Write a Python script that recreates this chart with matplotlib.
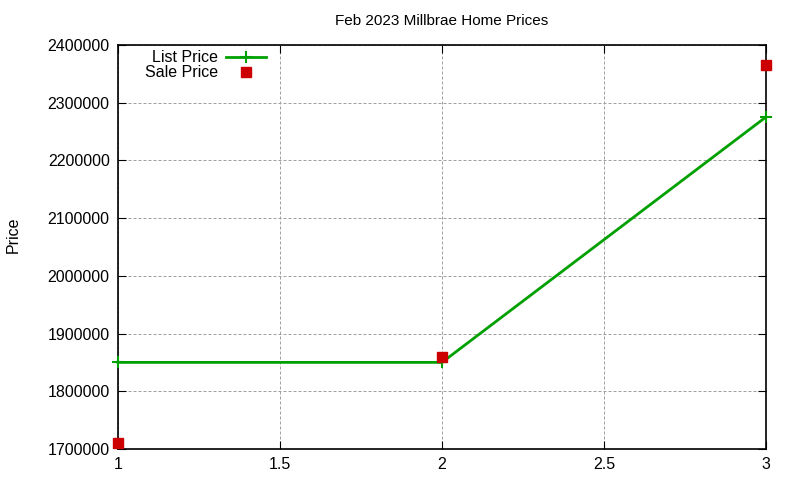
import matplotlib
matplotlib.use("Agg")
import matplotlib.pyplot as plt
from matplotlib.ticker import FormatStrFormatter

plt.rcParams['font.family'] = ['Liberation Sans', 'DejaVu Sans']

x = [1, 2, 3]
list_price = [1850000, 1850000, 2275000]
sale_price = [1710000, 1860000, 2365000]

fig = plt.figure(figsize=(8, 4.8), dpi=100)
ax = fig.add_axes([0.1475, 0.0646, 0.81, 0.8421])

ax.plot(x, list_price, color="#00a000", lw=2, marker="+", ms=9, mew=1.5,
        label="List Price", clip_on=False, zorder=3)
ax.plot(x, sale_price, color="#cc0000", ls="none", marker="s", ms=7,
        label="Sale Price", clip_on=False, zorder=4)

ax.set_xlim(1, 3)
ax.set_ylim(1700000, 2400000)
ax.set_xticks([1, 1.5, 2, 2.5, 3])
ax.set_xticklabels(["1", "1.5", "2", "2.5", "3"])
ax.set_yticks(range(1700000, 2400001, 100000))
ax.yaxis.set_major_formatter(FormatStrFormatter("%d"))
ax.tick_params(direction="in", top=True, right=True, length=6, labelsize=11.5, pad=6)
ax.grid(True, color="#a0a0a0", ls=(0, (3, 2)), lw=0.72)
for s in ax.spines.values():
    s.set_linewidth(1.2)

ax.set_title("Feb 2023 Millbrae Home Prices", fontsize=11, pad=14)
fig.text(0.016, 0.51, "Price", rotation=90, fontsize=11.5, va="center", ha="center")

ax.legend(loc="upper left", bbox_to_anchor=(0.02, 1.022), frameon=False, markerfirst=False,
          fontsize=11.5, handlelength=2.5, labelspacing=0.0, handletextpad=0.5)

fig.savefig("out.png", dpi=100)
